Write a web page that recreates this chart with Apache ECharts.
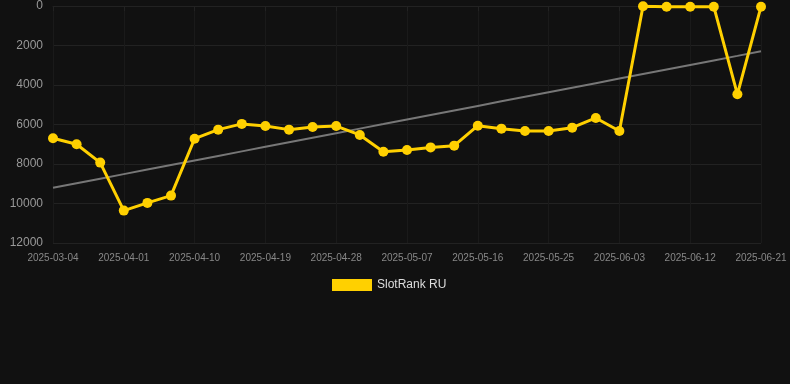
<!DOCTYPE html>
<html>
<head>
<meta charset="utf-8">
<script src="https://cdn.jsdelivr.net/npm/echarts@6/dist/echarts.min.js"></script>
<style>
  html, body { margin: 0; padding: 0; background: #111111; }
  #chart { width: 790px; height: 384px; }
</style>
</head>
<body>
<div id="chart"></div>
<script>
// dates on the category axis
var dates = ['2025-03-04', '2025-03-26', '2025-03-29', '2025-04-01', '2025-04-04', '2025-04-07',
    '2025-04-10', '2025-04-13', '2025-04-16', '2025-04-19', '2025-04-22', '2025-04-25',
    '2025-04-28', '2025-05-01', '2025-05-04', '2025-05-07', '2025-05-10', '2025-05-13',
    '2025-05-16', '2025-05-19', '2025-05-22', '2025-05-25', '2025-05-28', '2025-05-31',
    '2025-06-03', '2025-06-06', '2025-06-09', '2025-06-12', '2025-06-15', '2025-06-18',
    '2025-06-21'];
// rank values
var rankRU = [6700, 7000, 7930, 10360, 9970, 9600,
    6720, 6260, 5970, 6080, 6260, 6130,
    6080, 6530, 7380, 7290, 7160, 7070,
    6060, 6210, 6330, 6330, 6160, 5670,
    6330, 10, 35, 35, 35, 4470,
    35];

// least squares trend over the rank series
function trendOf(vals) {
    var n = vals.length, sx = 0, sy = 0, sxy = 0, sxx = 0;
    for (var i = 0; i < n; i++) {
        sx += i; sy += vals[i]; sxy += i * vals[i]; sxx += i * i;
    }
    var k = (n * sxy - sx * sy) / (n * sxx - sx * sx);
    var b = (sy - k * sx) / n;
    var out = [];
    for (var j = 0; j < n; j++) out.push(Math.round(k * j + b));
    return out;
}
var trend = trendOf(rankRU);

var myChart = echarts.init(document.getElementById('chart'));
var option = {
    backgroundColor: '#111111',
    animation: false,
    grid: { left: 53, right: 29, top: 6, bottom: 141 },
    legend: {
        data: [{ name: 'SlotRank RU', icon: 'rect' }],
        top: 274,
        left: 327,
        itemWidth: 40,
        itemHeight: 12,
        itemGap: 10,
        textStyle: { color: '#dddddd', fontSize: 12, fontFamily: 'Arial' }
    },
    xAxis: {
        type: 'category',
        data: dates,
        boundaryGap: false,
        axisLine: { show: true, lineStyle: { color: '#222222' } },
        axisTick: { show: true, interval: 2, lineStyle: { color: '#222222' } },
        axisLabel: { interval: 2, color: '#888888', fontSize: 10, fontFamily: 'Arial', margin: 10 },
        splitLine: { show: true, interval: 2, lineStyle: { color: '#1a1a1a' } }
    },
    yAxis: {
        type: 'value',
        inverse: true,
        min: 0,
        max: 12000,
        interval: 2000,
        axisLine: { show: false },
        axisTick: { show: false },
        axisLabel: {
            color: '#999999', fontSize: 12, fontFamily: 'Arial', margin: 10,
            formatter: function (v) { return String(v); }
        },
        splitLine: { lineStyle: { color: '#222222' } }
    },
    series: [
        {
            name: 'SlotRank RU',
            type: 'line',
            data: rankRU,
            symbol: 'circle',
            symbolSize: 10,
            z: 3,
            itemStyle: { color: '#ffd000' },
            lineStyle: { color: '#ffd000', width: 3 }
        },
        {
            name: 'trend',
            type: 'line',
            data: trend,
            symbol: 'none',
            z: 2,
            lineStyle: { color: '#777777', width: 2 },
            itemStyle: { color: '#777777' }
        }
    ]
};
myChart.setOption(option);
</script>
</body>
</html>
